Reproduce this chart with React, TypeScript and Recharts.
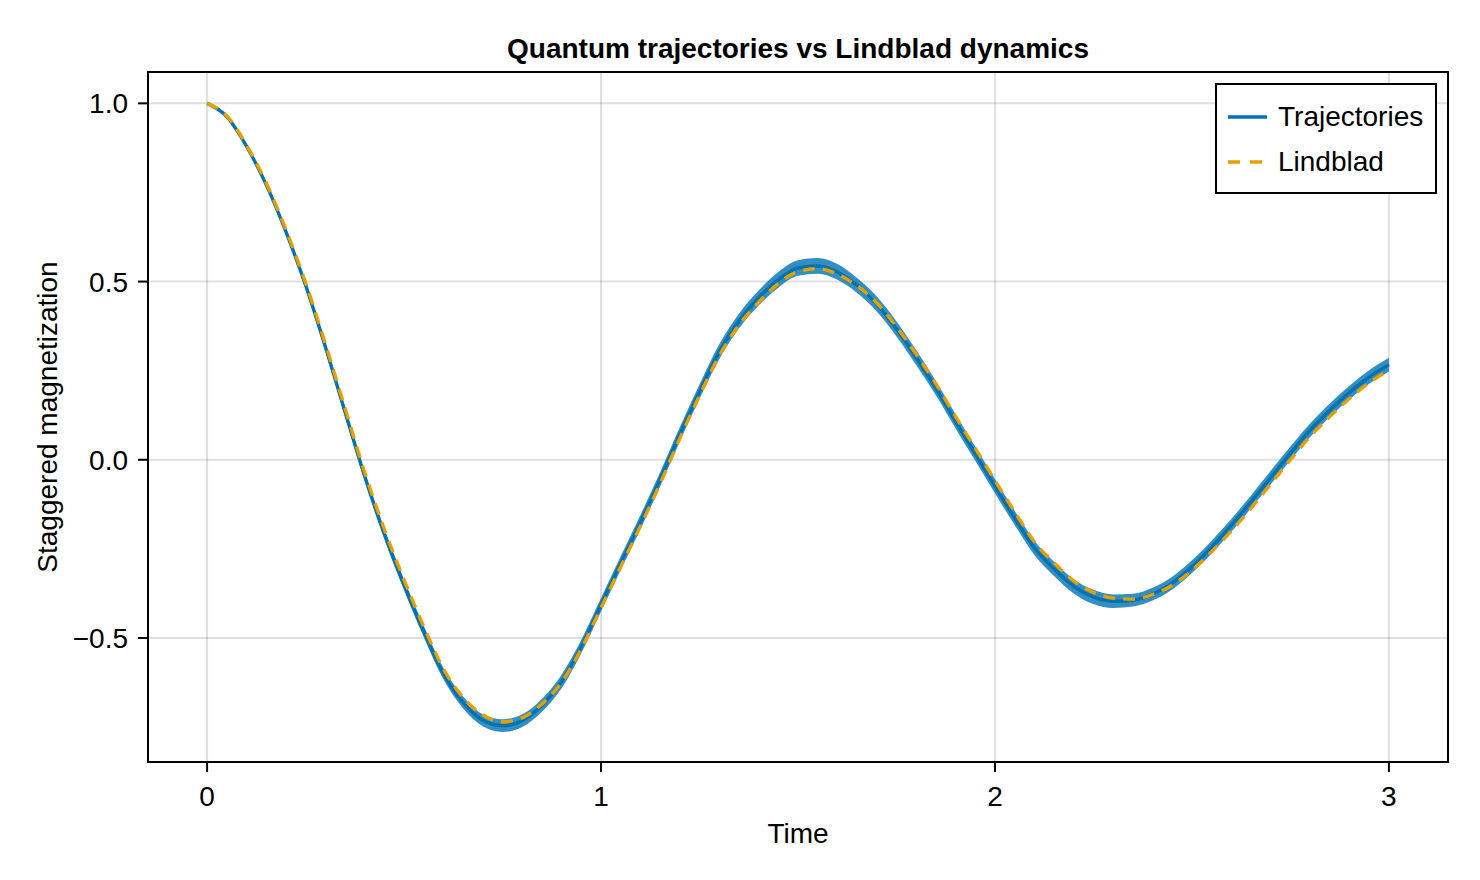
import React from 'react'
import {
  Area,
  CartesianGrid,
  ComposedChart,
  Line,
  ReferenceArea,
  XAxis,
  YAxis,
} from 'recharts'

// sampled times
const times = [
  0.0, 0.05, 0.1, 0.15, 0.2, 0.25, 0.3, 0.35, 0.4, 0.45,
  0.5, 0.55, 0.6, 0.65, 0.7, 0.75, 0.8, 0.85, 0.9, 0.95,
  1.0, 1.05, 1.1, 1.15, 1.2, 1.25, 1.3, 1.35, 1.4, 1.45,
  1.5, 1.55, 1.6, 1.65, 1.7, 1.75, 1.8, 1.85, 1.9, 1.95,
  2.0, 2.05, 2.1, 2.15, 2.2, 2.25, 2.3, 2.35, 2.4, 2.45,
  2.5, 2.55, 2.6, 2.65, 2.7, 2.75, 2.8, 2.85, 2.9, 2.95,
  3.0,
]

// mean over trajectories
const trajMean = [
  1.0, 0.963, 0.88, 0.772, 0.64, 0.49, 0.318, 0.135, -0.046, -0.208,
  -0.351, -0.482, -0.6, -0.681, -0.731, -0.746, -0.732, -0.689, -0.622, -0.524,
  -0.407, -0.29, -0.175, -0.055, 0.071, 0.191, 0.303, 0.389, 0.454, 0.505,
  0.538, 0.544, 0.527, 0.489, 0.437, 0.367, 0.287, 0.201, 0.108, 0.017,
  -0.074, -0.163, -0.247, -0.306, -0.355, -0.385, -0.397, -0.394, -0.377, -0.346,
  -0.3, -0.245, -0.184, -0.118, -0.05, 0.018, 0.083, 0.139, 0.189, 0.232,
  0.267,
]

// standard error of the trajectory mean
const trajErr = [
  0.0, 0.002, 0.004, 0.006, 0.008, 0.01, 0.011, 0.012, 0.013, 0.014,
  0.015, 0.016, 0.016, 0.017, 0.017, 0.018, 0.018, 0.018, 0.019, 0.019,
  0.019, 0.019, 0.02, 0.02, 0.02, 0.02, 0.021, 0.021, 0.021, 0.022,
  0.022, 0.022, 0.022, 0.021, 0.021, 0.021, 0.021, 0.02, 0.02, 0.02,
  0.02, 0.02, 0.02, 0.02, 0.02, 0.02, 0.019, 0.018, 0.018, 0.018,
  0.018, 0.018, 0.018, 0.018, 0.019, 0.019, 0.019, 0.019, 0.019, 0.019,
  0.019,
]

// Lindblad master equation
const lindblad = [
  1.0, 0.965, 0.883, 0.777, 0.646, 0.497, 0.326, 0.145, -0.035, -0.195,
  -0.337, -0.468, -0.587, -0.667, -0.716, -0.735, -0.724, -0.685, -0.624, -0.53,
  -0.415, -0.3, -0.186, -0.067, 0.06, 0.18, 0.292, 0.378, 0.442, 0.494,
  0.528, 0.536, 0.521, 0.488, 0.44, 0.373, 0.296, 0.213, 0.121, 0.032,
  -0.058, -0.146, -0.23, -0.289, -0.34, -0.372, -0.388, -0.391, -0.378, -0.352,
  -0.31, -0.258, -0.2, -0.136, -0.068, 0.0, 0.065, 0.121, 0.172, 0.216,
  0.252,
]

const xTicks = [0, 1, 2, 3]
const yTicks = [-0.5, 0, 0.5, 1]

const rows = times.map((t, i) => ({
  t,
  traj: trajMean[i],
  band: [trajMean[i] - trajErr[i], trajMean[i] + trajErr[i]],
  lind: lindblad[i],
}))

const BLUE = '#0072b2'
const ORANGE = '#e69f00'
const FONT = '"Liberation Sans", Arial, Helvetica, sans-serif'

const X_DOMAIN = [-0.15, 3.15]
const Y_DOMAIN = [-0.848, 1.088]

const fmtY = (v: number) => v.toFixed(1).replace('-', '\u2212')

function LegendBox() {
  return (
    <svg
      width={222}
      height={111}
      style={{ position: 'absolute', left: 1215, top: 83, display: 'block' }}
    >
      <rect x={1} y={1} width={220} height={109} fill='#fff' stroke='#000' strokeWidth={2} />
      <line x1={13} x2={52} y1={34} y2={34} stroke={BLUE} strokeWidth={3.4} />
      <line x1={13} x2={52} y1={79} y2={79} stroke={ORANGE} strokeWidth={3.4} strokeDasharray='12 10' />
      <text x={63} y={43} fontSize={28} fontFamily={FONT} fill='#000'>Trajectories</text>
      <text x={63} y={88} fontSize={28} fontFamily={FONT} fill='#000'>Lindblad</text>
    </svg>
  )
}

export default function App() {
  return (
    <div style={{ position: 'absolute', left: 0, top: 0, width: 1480, height: 880, background: '#fff' }}>
      <ComposedChart
        width={1480}
        height={880}
        data={rows}
        margin={{ top: 72, right: 32, bottom: 58, left: 48 }}
        style={{ fontFamily: FONT }}
      >
        <CartesianGrid stroke='#000' strokeOpacity={0.12} strokeWidth={2} />
        <XAxis
          type='number'
          dataKey='t'
          domain={X_DOMAIN}
          ticks={xTicks}
          allowDataOverflow
          height={60}
          axisLine={false}
          tickSize={10}
          tickMargin={14}
          tickLine={{ stroke: '#000', strokeWidth: 2 }}
          tick={{ fontSize: 28, fill: '#000', fontFamily: FONT }}
        />
        <YAxis
          type='number'
          domain={Y_DOMAIN}
          ticks={yTicks}
          allowDataOverflow
          width={100}
          axisLine={false}
          tickSize={10}
          tickMargin={10}
          tickLine={{ stroke: '#000', strokeWidth: 2 }}
          tick={{ fontSize: 28, fill: '#000', fontFamily: FONT }}
          tickFormatter={fmtY}
        />
        <Area
          dataKey='band'
          type='monotone'
          stroke='none'
          fill={BLUE}
          fillOpacity={0.8}
          isAnimationActive={false}
          legendType='none'
        />
        <Line
          dataKey='traj'
          name='Trajectories'
          type='monotone'
          stroke={BLUE}
          strokeWidth={3.4}
          dot={false}
          isAnimationActive={false}
        />
        <Line
          dataKey='lind'
          name='Lindblad'
          type='monotone'
          stroke={ORANGE}
          strokeWidth={3.4}
          strokeDasharray='12 8'
          dot={false}
          isAnimationActive={false}
        />
        <ReferenceArea
          x1={X_DOMAIN[0]}
          x2={X_DOMAIN[1]}
          y1={Y_DOMAIN[0]}
          y2={Y_DOMAIN[1]}
          fill='none'
          stroke='#000'
          strokeWidth={2}
          ifOverflow='visible'
        />
      </ComposedChart>
      <svg
        width={1480}
        height={880}
        style={{ position: 'absolute', left: 0, top: 0, pointerEvents: 'none' }}
      >
        <text x={798} y={58} textAnchor='middle' fontSize={28} fontWeight='bold' fontFamily={FONT} fill='#000'>
          Quantum trajectories vs Lindblad dynamics
        </text>
        <text x={798} y={843} textAnchor='middle' fontSize={28} fontFamily={FONT} fill='#000'>
          Time
        </text>
        <text
          x={57}
          y={417}
          textAnchor='middle'
          fontSize={28}
          fontFamily={FONT}
          fill='#000'
          transform='rotate(-90 57 417)'
        >
          Staggered magnetization
        </text>
      </svg>
      <LegendBox />
    </div>
  )
}
